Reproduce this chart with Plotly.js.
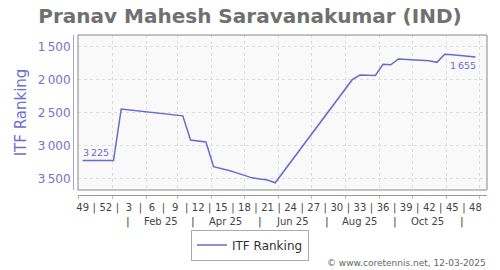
<!DOCTYPE html>
<html>
<head>
<meta charset="utf-8">
<script src="https://cdn.plot.ly/plotly-3.0.1.min.js"></script>
<style>html,body{margin:0;padding:0;background:#fff}#chart{width:500px;height:270px}</style>
</head>
<body>
<div id="chart"></div>
<script>
// Weekly ranking dates (Thursday of each ISO week)
const weekDates = [
  '2024-12-05','2024-12-12','2024-12-19','2024-12-26','2025-01-02','2025-01-09','2025-01-16','2025-01-23',
  '2025-01-30','2025-02-06','2025-02-13','2025-02-20','2025-02-27','2025-03-06','2025-03-13','2025-03-20',
  '2025-03-27','2025-04-03','2025-04-10','2025-04-17','2025-04-24','2025-05-01','2025-05-08','2025-05-15',
  '2025-05-22','2025-05-29',
  '2025-08-07','2025-08-14','2025-08-21','2025-08-28','2025-09-04','2025-09-11','2025-09-18','2025-09-25',
  '2025-10-02','2025-10-09','2025-10-16','2025-10-23','2025-10-30','2025-11-06','2025-11-13','2025-11-20',
  '2025-11-27'
];
const itfRanking = [
  3225,3225,3225,3225,3225,2444,2457,2469,
  2482,2495,2507,2521,2532,2548,2913,2928,
  2944,3318,3345,3375,3412,3450,3487,3505,
  3520,3562,
  2000,1929,1932,1937,1767,1775,1686,1693,
  1699,1705,1712,1737,1615,1622,1630,1641,
  1655
];
// x-axis tick labels
const weekTickDates = ['2024-12-05','2024-12-26','2025-01-16','2025-02-06','2025-02-27','2025-03-20','2025-04-10',
  '2025-05-01','2025-05-22','2025-06-12','2025-07-03','2025-07-24','2025-08-14','2025-09-04','2025-09-25',
  '2025-10-16','2025-11-06','2025-11-27'];
const weekTickLabels = ['49','52','3','6','9','12','15','18','21','24','27','30','33','36','39','42','45','48'];
const monthLabels = ['Feb 25','Apr 25','Jun 25','Aug 25','Oct 25'];
const monthLabelMonths = [1,3,5,7,9]; // month index (0-based) in 2025
const yTicks = [1500,2000,2500,3000,3500];

const SEP = '\u2009';
function fmt(v){ return String(v).replace(/\B(?=(\d{3})+(?!\d))/g, SEP); }
function addDays(s, d){ const t = new Date(new Date(s+'T00:00:00Z').getTime()+d*86400000); return t.toISOString().slice(0,10)+' '+t.toISOString().slice(11,19); }

// Week labels interleaved with "|" separators
const xTickVals = [], xTickText = [];
weekTickDates.forEach((d,i)=>{
  xTickVals.push(d); xTickText.push(weekTickLabels[i]);
  if(i < weekTickDates.length-1){ xTickVals.push(addDays(d,10.5)); xTickText.push('|'); }
});

const n = itfRanking.length;
const lineColor = '#6a6acc';
const trace = {
  x: weekDates, y: itfRanking, type: 'scatter', mode: 'lines',
  name: 'ITF Ranking',
  line: {color: lineColor, width: 1.5},
  hoverinfo: 'x+y'
};

const annotations = [];
// first / last value labels
annotations.push({xref:'x', yref:'y', x: weekDates[0], y: itfRanking[0], text: fmt(itfRanking[0]), showarrow:false,
  xanchor:'left', yanchor:'middle', xshift:-2, yshift:8, font:{family:'DejaVu Sans', size:9.5, color:lineColor}});
annotations.push({xref:'x', yref:'y', x: weekDates[n-1], y: itfRanking[n-1], text: fmt(itfRanking[n-1]), showarrow:false,
  xanchor:'right', yanchor:'middle', xshift:3, yshift:-9, font:{family:'DejaVu Sans', size:9.5, color:lineColor}});

// Second row: month labels with separators
monthLabels.forEach((lab,i)=>{
  const m = monthLabelMonths[i];
  const mid = new Date(Date.UTC(2025, m, 14));
  annotations.push({xref:'x', yref:'paper', x: mid.toISOString().slice(0,10), y: -0.163, text: lab, showarrow:false,
    yanchor:'middle', font:{family:'DejaVu Sans', size:10, color:'#444'}});
});
[0,2,4,6,8,10].forEach(m=>{
  const sepD = new Date(Date.UTC(2025, m, 15));
  annotations.push({xref:'x', yref:'paper', x: sepD.toISOString().slice(0,10), y: -0.163, text: '|', showarrow:false,
    yanchor:'middle', font:{family:'DejaVu Sans', size:11, color:'#444'}});
});
annotations.push({xref:'paper', yref:'paper', x: 1.003, y: -0.425, xanchor:'right', yanchor:'middle', showarrow:false,
  text: '\u00a9 www.coretennis.net, 12-03-2025', font:{family:'DejaVu Sans', size:9, color:'#666'}});

const layout = {
  width: 500, height: 270,
  margin: {l: 73, r: 13, t: 35, b: 75, pad: 0},
  paper_bgcolor: '#ffffff', plot_bgcolor: '#f9f9f9',
  separators: '.' + SEP,
  font: {family: 'DejaVu Sans', color: '#444'},
  title: {text: 'Pranav Mahesh Saravanakumar (IND)', x: 0.5, xref: 'container', xanchor: 'center',
          y: 1 - 16/270, yref: 'container', yanchor: 'middle',
          font: {family: 'DejaVu Sans', size: 20, weight: 'bold', color: '#707070'}},
  showlegend: true,
  legend: {orientation: 'h', x: 0.5, xref: 'container', xanchor: 'center', y: 25/270, yref: 'container', yanchor: 'middle',
           bordercolor: '#aaa', borderwidth: 1, bgcolor: '#fff', font: {family: 'DejaVu Sans', size: 12, color: '#333'}},
  xaxis: {
    type: 'date', domain: [5/414, 1], anchor: 'free', position: 0,
    range: ['2024-11-30 17:30', '2025-12-07 12:00'],
    tickmode: 'array', tickvals: xTickVals, ticktext: xTickText, tickangle: 0,
    ticks: '', showgrid: false, zeroline: false, ticklabelstandoff: 3,
    tickfont: {family: 'DejaVu Sans', size: 10, color: '#444'},
    showline: true, linecolor: '#999', linewidth: 1,
    minor: {tickmode: 'linear', tick0: '2025-01-01', dtick: 'M1', ticks: 'outside', ticklen: 3, tickcolor: '#bbb',
            showgrid: true, gridcolor: '#dddddd', griddash: '3px,3px', gridwidth: 1},
    fixedrange: true
  },
  yaxis: {
    domain: [5/160, 1], anchor: 'free', position: 0,
    range: [3671, 1323], tickmode: 'array', tickvals: yTicks, tickformat: ',d',
    ticks: '', showgrid: true, gridcolor: '#dddddd', griddash: '3px,3px', zeroline: false,
    tickfont: {family: 'DejaVu Sans', size: 12, color: '#7373cc'},
    showline: true, linecolor: '#a5a5e0', linewidth: 1,
    title: {text: 'ITF Ranking', font: {family: 'DejaVu Sans', size: 15, color: '#6d6dcf'}, standoff: 6},
    fixedrange: true
  },
  shapes: [{type: 'rect', xref: 'x domain', yref: 'y domain', x0: 0, x1: 1, y0: 0, y1: 1,
            line: {color: '#888', width: 1}, fillcolor: 'rgba(0,0,0,0)', layer: 'above'}],
  annotations: annotations
};

Plotly.newPlot('chart', [trace], layout, {displayModeBar: false, staticPlot: true});
</script>
</body>
</html>
